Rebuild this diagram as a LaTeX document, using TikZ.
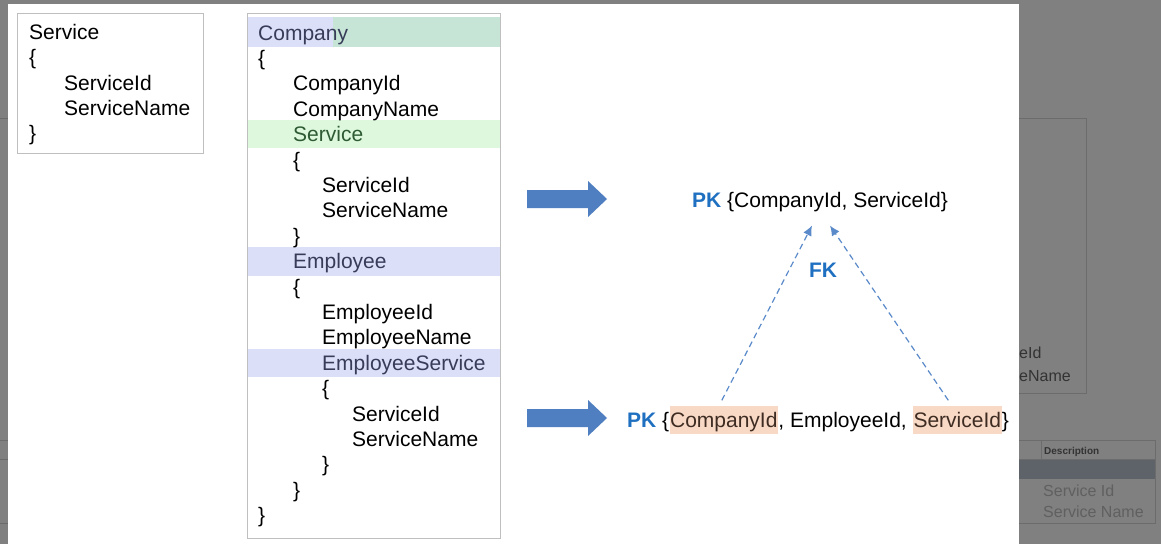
\documentclass[tikz,border=0pt]{standalone}
\usepackage{fontspec}
\setmainfont{Liberation Sans}
\usetikzlibrary{arrows.meta,calc}

\definecolor{pagegray}{HTML}{808080}
\definecolor{ghostline}{HTML}{6C6C6C}
\definecolor{ghosttext}{HTML}{333333}
\definecolor{ghostdim}{HTML}{606060}
\definecolor{ghostrow}{HTML}{5D6369}
\definecolor{boxgray}{HTML}{BFBFBF}
\definecolor{lavband}{HTML}{DCDFF8}
\definecolor{tealband}{HTML}{C6E5D7}
\definecolor{greenband}{HTML}{DDF8DC}
\definecolor{lavtext}{HTML}{383C58}
\definecolor{greentext}{HTML}{2E5B33}
\definecolor{keyblue}{HTML}{1F70C1}
\definecolor{arrowblue}{HTML}{4F7FC0}
\definecolor{fkblue}{HTML}{5A8ACA}
\definecolor{peach}{HTML}{F8D9C6}
\definecolor{peachtext}{HTML}{3E2C22}

\tikzset{
  code/.style={anchor=base west, inner sep=0pt, font=\fontsize{21}{25}\selectfont},
  frame/.style={draw=boxgray, line width=1.3pt, anchor=north west, inner sep=0pt},
  hl/.style={code, fill=peach, text=peachtext, inner xsep=0.5pt,
             text height=21.5pt, text depth=6.5pt},
  key/.style={text=keyblue, font=\fontsize{21}{25}\selectfont\bfseries},
  fklink/.style={fkblue, line width=1.2pt, dash pattern=on 6pt off 4pt,
                 -{Latex[length=10pt,width=9pt]}},
  bigarrow/.style={fill=arrowblue},
  ghost/.style={ghostline, line width=0.8pt},
  ghostlabel/.style={anchor=base west, inner sep=0pt, text=ghosttext, font=\fontsize{16}{18}\selectfont}
}

\begin{document}
\begin{tikzpicture}[x=1pt,y=-1pt]
\useasboundingbox (0,0) rectangle (1161,544);

% backdrop and the window lying behind the slide
\fill[pagegray] (0,0) rectangle (1161,544);
\draw[ghost] (900,118) rectangle (1086,393);
\node[ghostlabel] (gid) at (1019,358) {eId};
\node[ghostlabel] (gname) at (1019,381) {eName};
\fill[ghostrow] (900,459) rectangle (1155,479);
\draw[ghost] (-5,440) rectangle (1155,523);
\draw[ghost] (-5,459) -- (1155,459);
\draw[ghost] (1041,440) -- (1041,459);
\draw[ghost] (-5,118) -- (20,118);
\node[ghostlabel, font=\fontsize{10}{12}\selectfont\bfseries] (gdesc) at (1044,454) {Description};
\node[ghostlabel, text=ghostdim] (gsid) at (1043,496) {Service Id};
\node[ghostlabel, text=ghostdim] (gsname) at (1043,517) {Service Name};

% the slide itself
\fill[white] (8,4) rectangle (1019,544);

% ---- standalone Service entity ----
\node[frame, minimum width=186pt, minimum height=140pt] (svcbox) at (17,13) {};
\node[code] (s1) at (29,39.5) {Service};
\node[code] (s2) at (29,64.8) {\{};
\node[code] (s3) at (64,90.1) {ServiceId};
\node[code] (s4) at (64,115.4) {ServiceName};
\node[code] (s5) at (29,140.7) {\}};

% ---- nested Company structure ----
\fill[lavband]   (248,17) rectangle (333,47);
\fill[tealband]  (333,17) rectangle (500,47);
\fill[greenband] (248,120) rectangle (500,148);
\fill[lavband]   (248,247) rectangle (500,276);
\fill[lavband]   (248,349) rectangle (500,377);
\node[frame, minimum width=253pt, minimum height=525pt] (cobox) at (247,13) {};

\node[code, text=lavtext]   (c1)  at (258,40.0)  {Company};
\node[code]                 (c2)  at (258,65.4)  {\{};
\node[code]                 (c3)  at (293,90.8)  {CompanyId};
\node[code]                 (c4)  at (293,116.2) {CompanyName};
\node[code, text=greentext] (c5)  at (293,141.6) {Service};
\node[code]                 (c6)  at (293,167.0) {\{};
\node[code]                 (c7)  at (322,192.4) {ServiceId};
\node[code]                 (c8)  at (322,217.8) {ServiceName};
\node[code]                 (c9)  at (293,243.2) {\}};
\node[code, text=lavtext]   (c10) at (293,268.6) {Employee};
\node[code]                 (c11) at (293,294.0) {\{};
\node[code]                 (c12) at (322,319.4) {EmployeeId};
\node[code]                 (c13) at (322,344.8) {EmployeeName};
\node[code, text=lavtext]   (c14) at (322,370.2) {EmployeeService};
\node[code]                 (c15) at (322,395.6) {\{};
\node[code]                 (c16) at (352,421.0) {ServiceId};
\node[code]                 (c17) at (352,446.4) {ServiceName};
\node[code]                 (c18) at (322,471.8) {\}};
\node[code]                 (c19) at (293,497.2) {\}};
\node[code]                 (c20) at (258,522.6) {\}};

% ---- block arrows ----
\fill[bigarrow] (527,190) -- (588,190) -- (588,181) -- (607,199) -- (588,217) -- (588,208) -- (527,208) -- cycle;
\fill[bigarrow] (527,409) -- (588,409) -- (588,400) -- (607,418) -- (588,436) -- (588,427) -- (527,427) -- cycle;

% ---- keys ----
\node[code] (pk1) at (692,207) {\textcolor{keyblue}{\bfseries PK} \{CompanyId, ServiceId\}};

\node[code] (pk2) at (627,427) {\textcolor{keyblue}{\bfseries PK} \{};
\node[hl]   (cid) at (pk2.base east) {CompanyId};
\node[code] (mid) at (cid.base east) {, EmployeeId,\kern5.8pt};
\node[hl]   (sid) at (mid.base east) {ServiceId};
\node[code] (rbr) at (sid.base east) {\}};

\node[key] (fk) at (823,270) {FK};

\coordinate (fk1s) at ($(cid.north)+(-2,-5)$);
\coordinate (fk2s) at ($(sid.north)+(-9,-5)$);
\coordinate (fk1e) at ($(pk1.south)+(-8,14)$);
\coordinate (fk2e) at ($(pk1.south)+(10,14)$);
\draw[fklink] (fk1s) -- (fk1e);
\draw[fklink] (fk2s) -- (fk2e);
\end{tikzpicture}
\end{document}
